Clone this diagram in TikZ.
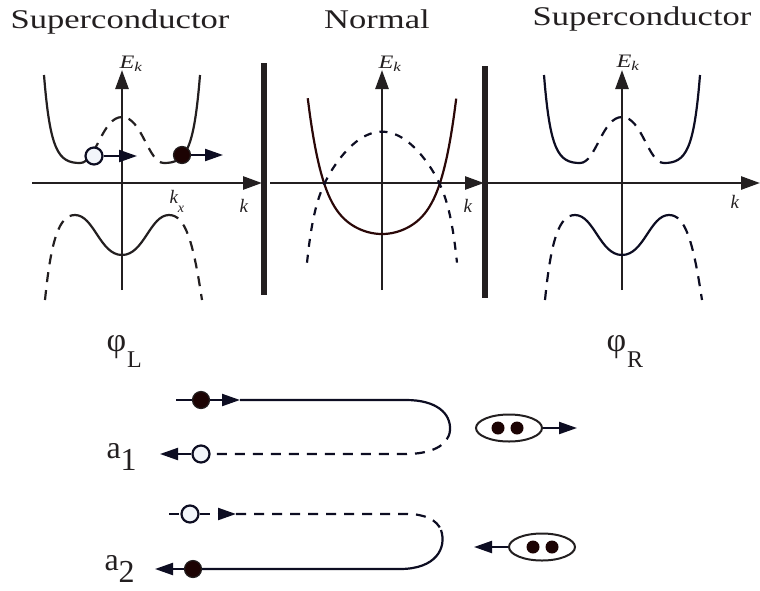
\documentclass[tikz,border=0pt]{standalone}
\usepackage{fontspec}
\usepackage{graphicx}
\setmainfont{Liberation Serif}
\usetikzlibrary{arrows.meta,shapes.geometric}
\definecolor{ink}{HTML}{231F20}
\definecolor{navy}{HTML}{0D0D22}
\definecolor{brn}{HTML}{2A0808}
\definecolor{dotfill}{HTML}{1C0303}
\definecolor{holefill}{HTML}{F2F5FA}
\newcommand{\wide}[1]{\scalebox{1.28}[1]{#1}}
\begin{document}
\begin{tikzpicture}[x=1pt, y=-1pt, every node/.style={text=ink},
  axis/.style={line width=2.6pt, draw=ink, -{Triangle[length=19pt,width=13pt]}},
  band/.style={line width=2.2pt, draw=#1}, band/.default=ink,
  dband/.style={band=#1, dash pattern=on 10pt off 8pt}, dband/.default=ink,
  wall/.style={line width=5.5pt, draw=ink},
  tip/.style={-{Triangle[length=18pt,width=12pt]}},
  elec/.style={circle, draw=ink, fill=dotfill, line width=1.2pt, minimum size=17pt, inner sep=0pt},
  hole/.style={circle, draw=navy, fill=holefill, line width=2.2pt, minimum size=17pt, inner sep=0pt},
  pairbox/.style={ellipse, draw=ink, line width=2pt, minimum width=66pt, minimum height=27pt, inner sep=0pt},
  pairdot/.style={circle, fill=dotfill, minimum size=13pt, inner sep=0pt},
  ttl/.style={anchor=base, font=\fontsize{27}{30}\selectfont},
  elab/.style={anchor=base west, font=\fontsize{19}{20}\selectfont},
  klab/.style={anchor=base west, font=\fontsize{19}{20}\selectfont\itshape}]
  \useasboundingbox (0,0) rectangle (760,590);
  % Titles
  \node[ttl] (tl) at (120,28) {\wide{Superconductor}};
  \node[ttl] (tn) at (377,28) {\wide{Normal}};
  \node[ttl] (tr) at (642,25) {\wide{Superconductor}};
  % Barriers
  \draw[wall] (264,63) -- (264,295);
  \draw[wall] (485,66) -- (485,298);
  % Axes
  \draw[axis] (32,183) -- (262,183);
  \draw[axis] (122,290) -- (122,70);
  \draw[axis] (270,183) -- (484,183);
  \draw[axis] (382,290) -- (382,70);
  \draw[axis] (487,183) -- (760,183);
  \draw[axis] (622,290) -- (622,70);
  \node[elab] (ek1) at (116,68) {\wide{\textit{E}\textsubscript{\textit{k}}}};
  \node[elab] (ek2) at (375,68) {\wide{\textit{E}\textsubscript{\textit{k}}}};
  \node[elab] (ek3) at (613,67) {\wide{\textit{E}\textsubscript{\textit{k}}}};
  \node[klab] (k1) at (236,212) {k};
  \node[klab] (k2) at (460,212) {k};
  \node[klab] (k3) at (727,208) {k};
  \node[klab] (kx) at (166,203) {k\raisebox{-9pt}{\fontsize{14}{14}\selectfont x}};
  % Superconductor bands, left and right
  \foreach \cx/\col in {122/ink,622/navy} {
    \draw[band=\col] (\cx-78,75) .. controls (\cx-72,150) and (\cx-64,163) .. (\cx-42,163);
    \draw[dband=\col] (\cx-42,163) .. controls (\cx-26,163) and (\cx-20,117) .. (\cx,117)
      .. controls (\cx+20,117) and (\cx+26,163) .. (\cx+42,163);
    \draw[band=\col] (\cx+42,163) .. controls (\cx+64,163) and (\cx+72,150) .. (\cx+78,75);
    \draw[dband=\col] (\cx-77,300) .. controls (\cx-71,240) and (\cx-63,215) .. (\cx-47,215);
    \draw[band=\col] (\cx-47,215) .. controls (\cx-28,215) and (\cx-22,255) .. (\cx,255)
      .. controls (\cx+22,255) and (\cx+28,215) .. (\cx+47,215);
    \draw[dband=\col] (\cx+47,215) .. controls (\cx+63,215) and (\cx+71,240) .. (\cx+80,300);
  }
  % Normal bands
  \draw[band=brn] plot[domain=-0.99:0.99, samples=80, smooth] ({382+75*\x},{234-54*\x*\x-88*(\x*\x)^3});
  \draw[dband=navy, dash pattern=on 8pt off 8pt] plot[domain=-1:1, samples=80, smooth] ({382+75*\x},{131.7+85*\x*\x+46*(\x*\x)^6});
  % Quasiparticles in the left band
  \node[hole] (qh) at (94,156) {};
  \node[elec] (qe) at (182,155) {};
  \coordinate (qht) at (137,156);
  \coordinate (qet) at (223,155);
  \draw[band=navy, tip] (qh) -- (qht);
  \draw[band=navy, tip] (qe) -- (qet);
  % Phases
  \node[anchor=base west, font=\fontsize{34}{36}\selectfont] (phl) at (103,351) {φ\hspace{1pt}\raisebox{-16pt}{\fontsize{24}{24}\selectfont L}};
  \node[anchor=base west, font=\fontsize{34}{36}\selectfont] (phr) at (603,351) {φ\hspace{1pt}\raisebox{-16pt}{\fontsize{24}{24}\selectfont R}};
  % Andreev paths
  \node[anchor=base west, font=\fontsize{32}{34}\selectfont] (a1) at (103,458) {a\raisebox{-12pt}{1}};
  \node[anchor=base west, font=\fontsize{32}{34}\selectfont] (a2) at (101,570) {a\raisebox{-12pt}{2}};
  \node[elec] (e1) at (201,400) {};
  \node[hole] (h1) at (201,454) {};
  \node[hole] (h2) at (190,514) {};
  \node[elec] (e2) at (193,569) {};
  \coordinate (s1) at (176,400);
  \coordinate (t1) at (240,400);
  \coordinate (b1) at (160,454);
  \coordinate (s2) at (169,514);
  \coordinate (t2) at (236,514);
  \coordinate (b2) at (155,569);
  \draw[band=navy] (s1) -- (e1);
  \draw[band=navy, tip] (e1) -- (t1);
  \draw[band=navy] (t1) -- (406,400) .. controls (436,400) and (451,413) .. (450,430);
  \draw[dband=navy] (450,430) .. controls (449,446) and (430,454) .. (406,454) -- (h1);
  \draw[band=navy, tip] (h1) -- (b1);
  \draw[dband=navy] (s2) -- (h2);
  \draw[dband=navy, tip] (h2) -- (t2);
  \draw[dband=navy] (t2) -- (407,514) .. controls (425,514) and (437,520) .. (441,530);
  \draw[band=navy] (441,530) .. controls (447,548) and (436,569) .. (400,569) -- (e2);
  \draw[band=navy, tip] (e2) -- (b2);
  % Cooper pairs
  \node[pairbox] (p1) at (509,428) {};
  \node[pairdot] (p1a) at (498,428) {};
  \node[pairdot] (p1b) at (517,428) {};
  \node[pairbox] (p2) at (542,547) {};
  \node[pairdot] (p2a) at (533,547) {};
  \node[pairdot] (p2b) at (552,547) {};
  \coordinate (p1t) at (577,428);
  \coordinate (p2t) at (474,547);
  \draw[band=navy, tip] (p1) -- (p1t);
  \draw[band=navy, tip] (p2) -- (p2t);
\end{tikzpicture}
\end{document}
